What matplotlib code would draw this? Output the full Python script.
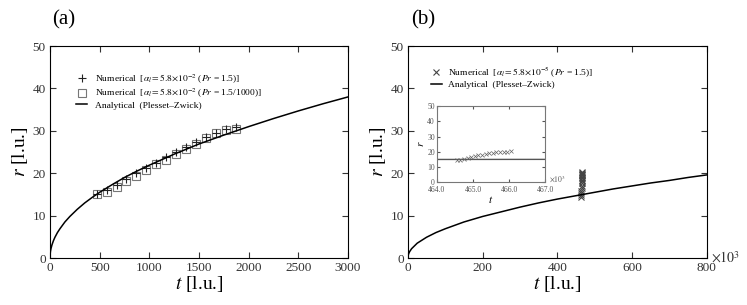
"""
Bubble radius versus time: numerical results against the Plesset-Zwick
analytical solution, two panels with an inset in (b).
"""

import matplotlib
matplotlib.use("Agg")
import matplotlib.pyplot as plt

plt.rcParams["font.family"] = ["Liberation Serif", "DejaVu Serif"]
plt.rcParams["mathtext.fontset"] = "stix"

# panel (a): analytical curve
t_ana_a = [0, 2, 5, 10, 20, 35, 50, 75, 100, 150, 200, 275, 350, 425, 500,
	625, 750, 875, 1000, 1250, 1500, 1750, 2000, 2250, 2500, 2750, 3000]
r_ana_a = [0.0, 1.0, 1.55, 2.2, 3.1, 4.1, 4.9, 6.0, 6.9, 8.5, 9.8, 11.5,
	13.0, 14.3, 15.5, 17.3, 19.0, 20.5, 21.9, 24.5, 26.9, 29.0, 31.0, 32.9,
	34.7, 36.4, 38.0]

# panel (a): numerical points
t_num_a = [470, 570, 670, 770, 870, 970, 1070, 1170, 1270, 1370, 1470, 1570,
	1670, 1770, 1870]
r_plus_a = [15.2, 16.0, 17.3, 18.6, 20.0, 21.2, 22.5, 23.8, 25.1, 26.2,
	27.3, 28.5, 29.6, 30.4, 30.9]
r_square_a = [15.0, 15.6, 16.8, 18.2, 19.4, 20.7, 22.1, 23.2, 24.5, 25.8,
	26.9, 28.3, 29.4, 30.1, 30.5]

# panel (b): analytical curve, t in units of 10^3
t_ana_b = [0, 0.5, 2, 5, 10, 25, 50, 75, 100, 150, 200, 250, 300, 350, 400,
	450, 500, 550, 600, 650, 700, 750, 800]
r_ana_b = [0.0, 0.5, 1.0, 1.55, 2.2, 3.5, 4.9, 6.0, 6.9, 8.5, 9.8, 10.9,
	12.0, 13.0, 13.9, 14.7, 15.5, 16.3, 17.0, 17.7, 18.3, 19.0, 19.6]

# panel (b): numerical points, t in units of 10^3
t_num_b = [464.55, 464.65, 464.75, 464.85, 464.95, 465.05, 465.15, 465.25,
	465.35, 465.45, 465.55, 465.65, 465.75, 465.85, 465.95, 466.05]
r_num_b = [14.5, 14.8, 15.3, 15.9, 16.5, 17.1, 17.6, 18.1, 18.5, 18.9,
	19.2, 19.5, 19.7, 19.9, 20.1, 20.3]

# inset: analytical value over the zoomed window
t_ana_inset = [464.0, 467.0]
r_ana_inset = [14.9, 14.95]

label_a1 = r"Numerical  [$\alpha_l = 5.8{\times}10^{-2}$ ($Pr$ = 1.5)]"
label_a2 = r"Numerical  [$\alpha_l = 5.8{\times}10^{-2}$ ($Pr$ = 1.5/1000)]"
label_b1 = r"Numerical  [$\alpha_l = 5.8{\times}10^{-5}$ ($Pr$ = 1.5)]"
label_ana = "Analytical  (Plesset\u2013Zwick)"


def style_axes(ax, fs = 9.5, length = 4.5, color = "black"):
	ax.tick_params(direction = "in", top = True, right = True, length = length,
		width = 0.8, labelsize = fs, colors = "#333333", pad = 3)
	for s in ax.spines.values():
		s.set_color(color)
		s.set_linewidth(0.8)


def panel_a(fig):
	ax = fig.add_axes([0.0669, 0.154, 0.399, 0.695])
	ax.plot(t_ana_a, r_ana_a, c = "black", lw = 1.1, label = label_ana,
		zorder = 3)
	ax.plot(t_num_a, r_square_a, ls = "none", marker = "s", ms = 5.5,
		mfc = "none", mec = "#777777", mew = 0.8, label = label_a2)
	ax.plot(t_num_a, r_plus_a, ls = "none", marker = "+", ms = 5.5,
		mec = "#222222", mew = 0.8, label = label_a1)
	ax.set_xlim(0, 3000)
	ax.set_ylim(0, 50)
	ax.set_xticks([0, 500, 1000, 1500, 2000, 2500, 3000])
	ax.set_yticks([0, 10, 20, 30, 40, 50])
	ax.set_xlabel(r"$t$ [l.u.]", fontsize = 14, labelpad = 0)
	ax.set_ylabel(r"$r$ [l.u.]", fontsize = 14, labelpad = 2)
	style_axes(ax)
	h, l = ax.get_legend_handles_labels()
	ax.legend([h[2], h[1], h[0]], [l[2], l[1], l[0]], loc = "upper left",
		bbox_to_anchor = (0.06, 0.915), frameon = False, fontsize = 6.8,
		handlelength = 1.1, handletextpad = 0.9, labelspacing = 0.12)
	fig.text(0.085, 0.935, "(a)", fontsize = 15, ha = "center", va = "center")
	return ax


def panel_b(fig):
	ax = fig.add_axes([0.546, 0.154, 0.400, 0.695])
	ax.plot(t_num_b, r_num_b, ls = "none", marker = "x", ms = 4.5,
		mec = "#444444", mew = 0.8, label = label_b1)
	ax.plot(t_ana_b, r_ana_b, c = "black", lw = 1.1, label = label_ana)
	ax.set_xlim(0, 800)
	ax.set_ylim(0, 50)
	ax.set_xticks([0, 200, 400, 600, 800])
	ax.set_yticks([0, 10, 20, 30, 40, 50])
	ax.set_xlabel(r"$t$ [l.u.]", fontsize = 14, labelpad = 0)
	ax.set_ylabel(r"$r$ [l.u.]", fontsize = 14, labelpad = 2)
	style_axes(ax)
	ax.legend(loc = "upper left", bbox_to_anchor = (0.05, 0.95),
		frameon = False, fontsize = 6.8, handlelength = 1.1,
		handletextpad = 0.7, labelspacing = 0.2)
	ax.text(1.015, 0.0, r"$\times10^3$", transform = ax.transAxes,
		fontsize = 10, ha = "left", va = "center", color = "#333333")
	fig.text(0.566, 0.935, "(b)", fontsize = 15, ha = "center", va = "center")
	return ax


def inset_b(fig):
	ax = fig.add_axes([0.585, 0.403, 0.1446, 0.249])
	ax.plot(t_ana_inset, r_ana_inset, c = "#555555", lw = 1.0)
	ax.plot(t_num_b, r_num_b, ls = "none", marker = "x", ms = 2.5,
		mec = "#666666", mew = 0.5)
	ax.set_xlim(464, 467)
	ax.set_ylim(0, 50)
	ax.set_xticks([464, 465, 466, 467])
	ax.set_xticklabels(["464.0", "465.0", "466.0", "467.0"])
	ax.set_yticks([0, 10, 20, 30, 40, 50])
	style_axes(ax, fs = 5.5, length = 2, color = "#666666")
	ax.tick_params(pad = 1.5, colors = "#555555")
	ax.tick_params(axis = "x", pad = 2.5)
	for s in ax.spines.values():
		s.set_color("#777777")
	ax.set_xlabel(r"$t$", fontsize = 8, labelpad = 0)
	ax.set_ylabel(r"$r$", fontsize = 8, labelpad = 1)
	ax.text(1.04, 0.04, r"$\times10^3$", transform = ax.transAxes,
		fontsize = 5.5, ha = "left", va = "center", color = "#555555")
	return ax


if __name__ == "__main__":
	fig = plt.figure(figsize = (7.47, 3.05), dpi = 100)
	panel_a(fig)
	panel_b(fig)
	inset_b(fig)
	plt.savefig("out.png", dpi = 100)
	plt.clf()
